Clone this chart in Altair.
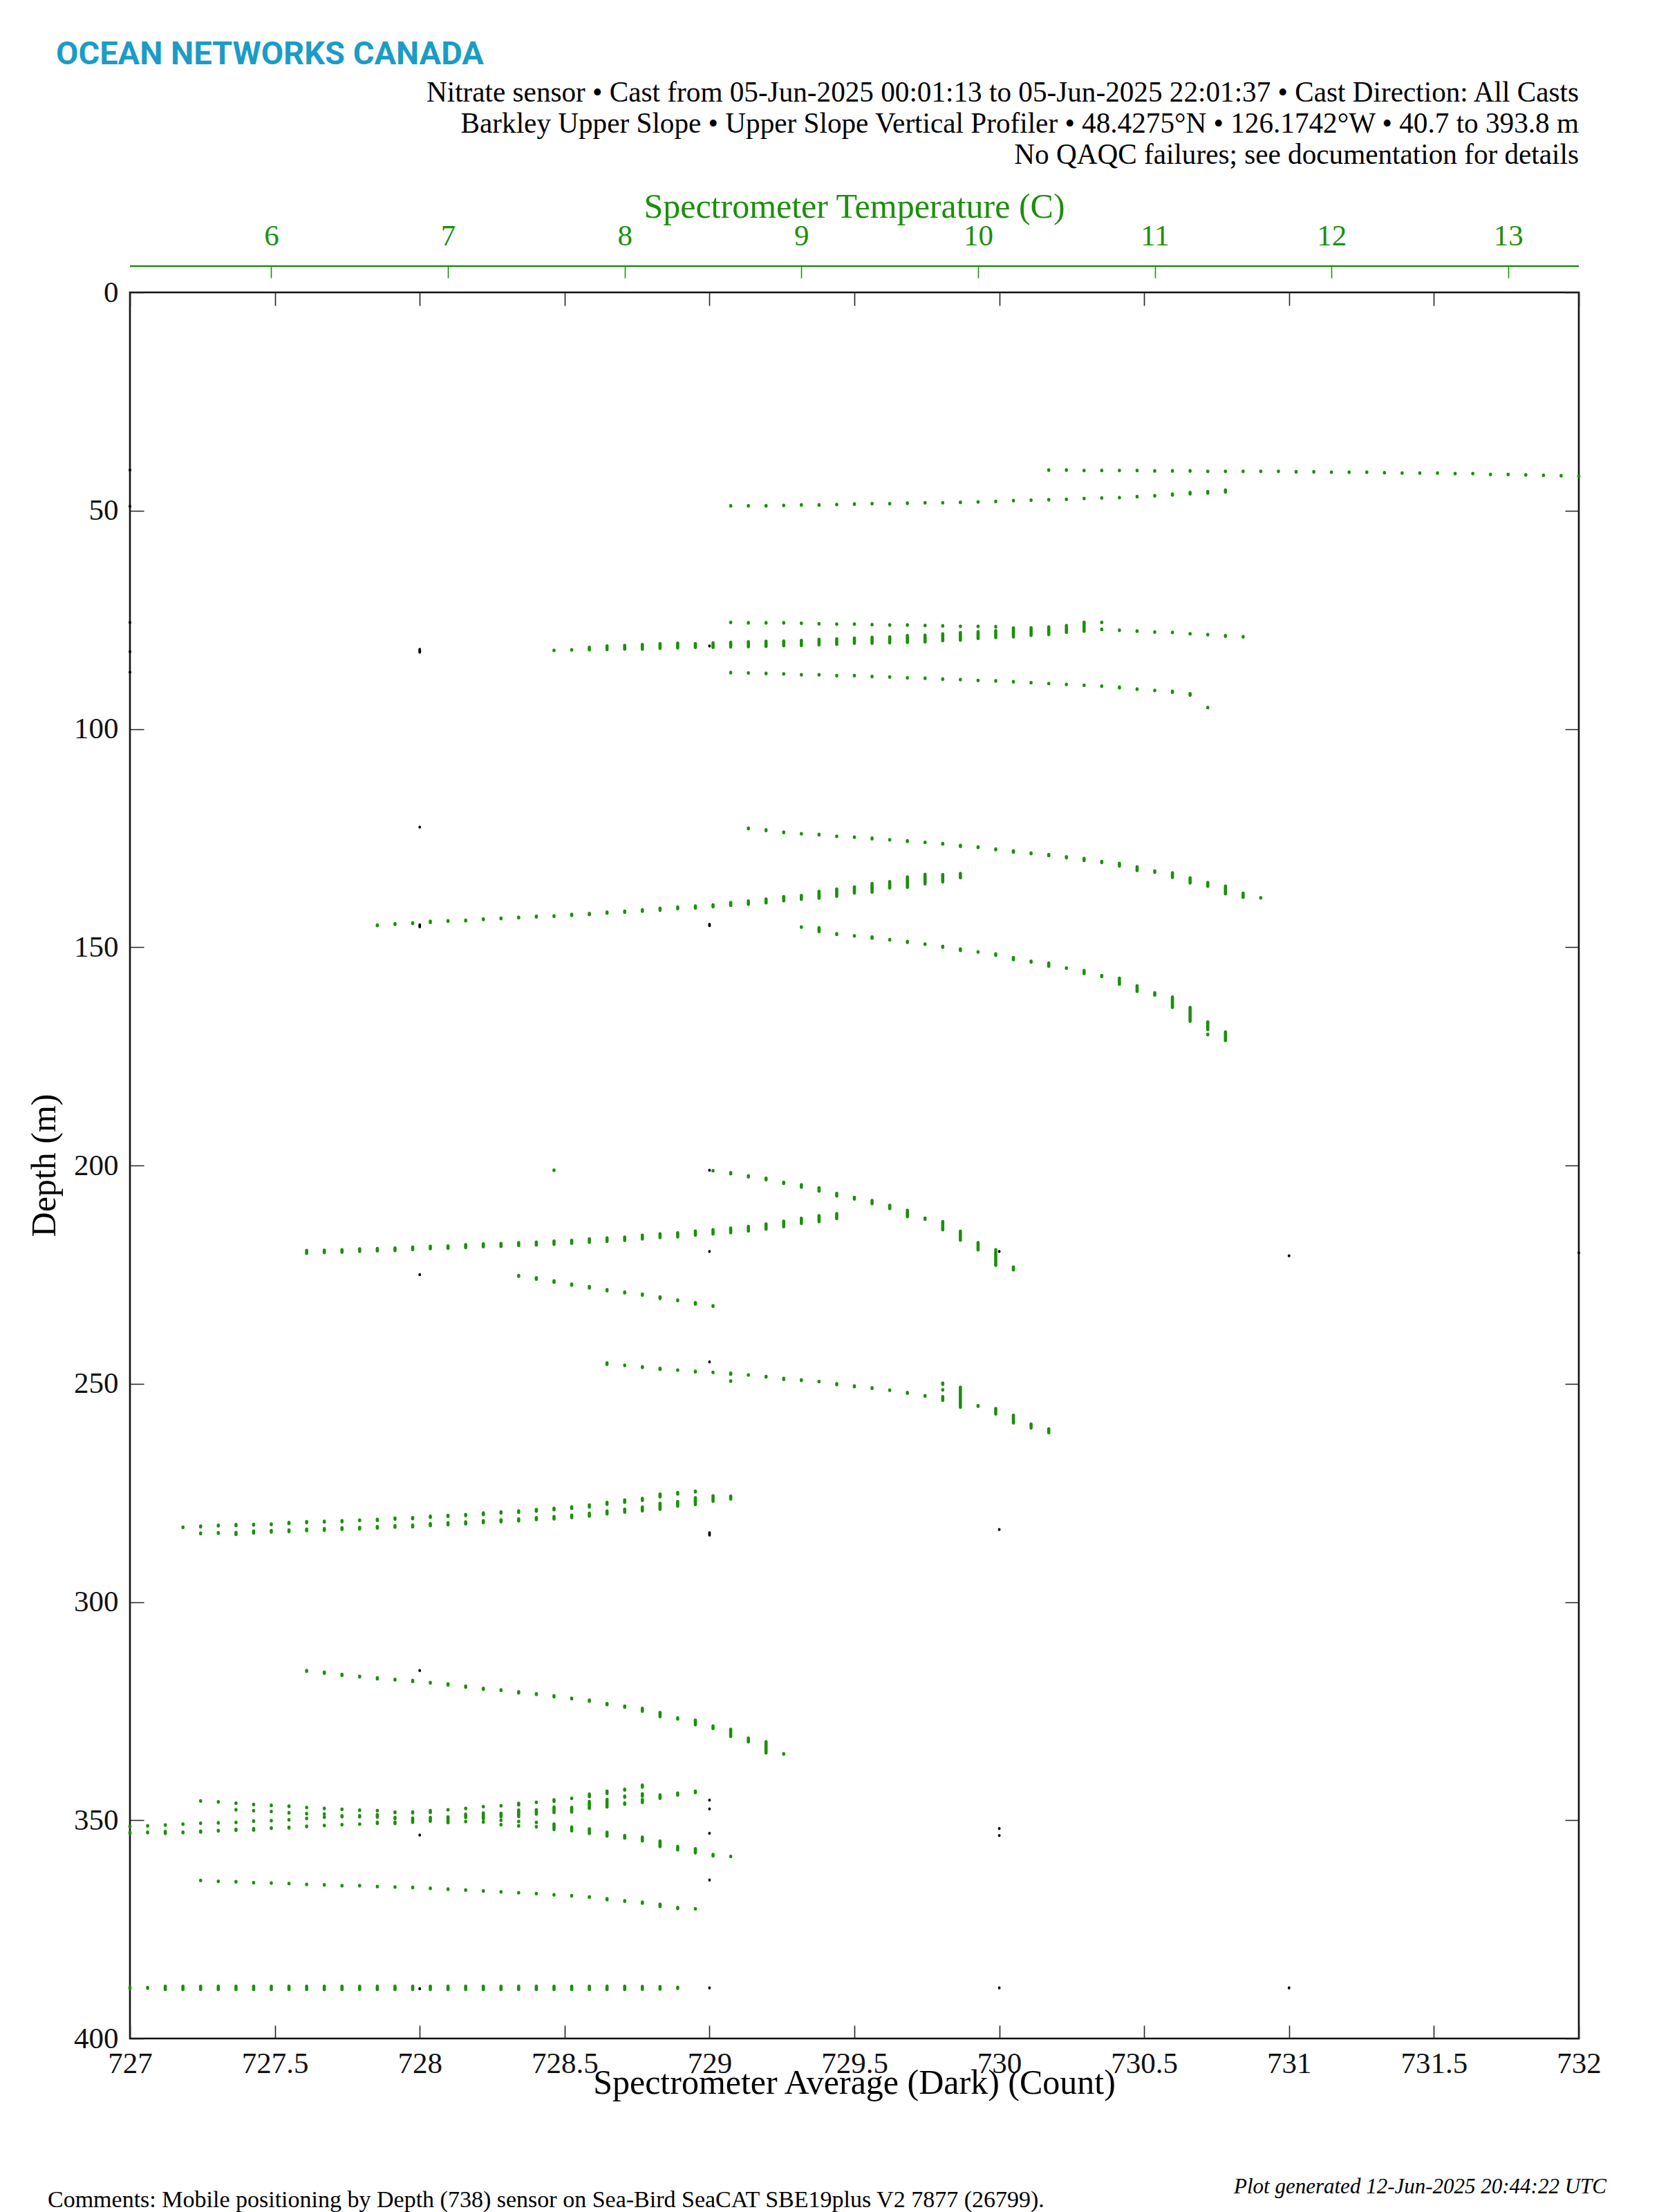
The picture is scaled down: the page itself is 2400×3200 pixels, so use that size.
import altair as alt
import pandas as pd

# ---------------- axis tick values ----------------
count_ticks = [727, 727.5, 728, 728.5, 729, 729.5, 730, 730.5, 731, 731.5, 732]
temp_ticks = [6, 7, 8, 9, 10, 11, 12, 13]
depth_ticks = [0, 50, 100, 150, 200, 250, 300, 350, 400]

# ---------------- texts ----------------
logo_text = "OCEAN NETWORKS CANADA"
header_lines = [
    "Nitrate sensor \u2022 Cast from 05-Jun-2025 00:01:13 to 05-Jun-2025 22:01:37 \u2022 Cast Direction: All Casts",
    "Barkley Upper Slope \u2022 Upper Slope Vertical Profiler \u2022 48.4275\u00b0N \u2022 126.1742\u00b0W \u2022 40.7 to 393.8 m",
    "No QAQC failures; see documentation for details",
]
top_title = "Spectrometer Temperature (C)"
bottom_title = "Spectrometer Average (Dark) (Count)"
left_title = "Depth (m)"
comment_text = "Comments: Mobile positioning by Depth (738) sensor on Sea-Bird SeaCAT SBE19plus V2 7877 (26799)."
generated_text = "Plot generated 12-Jun-2025 20:44:22 UTC"

# ---------------- Spectrometer Average (Dark) (Count) vs depth (black) ----------------
dark_count = [727, 727, 727, 727, 727, 727,
              728, 728, 728, 728, 728, 728, 728,
              729, 729, 729, 729, 729, 729, 729, 729, 729, 729, 729,
              730, 730, 730, 730, 730,
              731, 731,
              732]
dark_depth = [40.7, 49.0, 75.6, 82.3, 87.0, 388.4,
              82.1, 122.5, 145.1, 225.0, 315.7, 353.4, 388.6,
              81.0, 144.9, 201.1, 219.7, 245.0, 284.4, 345.4, 347.4, 353.0, 363.7, 388.4,
              219.7, 283.4, 351.9, 353.5, 388.4,
              220.7, 388.4,
              220.0]
dark_span = [0, 0, 0, 0, 0, 0,
             0.7, 0, 0.5, 0, 0, 0, 0,
             0, 0.4, 0, 0, 0, 0.6, 0, 0, 0, 0, 0,
             0, 0, 0, 0, 0,
             0, 0,
             0]

# ---------------- Spectrometer Temperature (C) vs depth (green) ----------------
# each mark: temperature, centre depth (m), vertical extent of overlapping samples (m)
a_temp = [10.4, 10.5, 10.6, 10.7, 10.8, 10.9, 11.0, 11.1, 11.2, 11.3, 11.4, 11.5, 11.6, 11.7, 11.8, 11.9,
          12.0, 12.1, 12.2, 12.3, 12.4, 12.5, 12.6, 12.7, 12.8, 12.9, 13.0, 13.1, 13.2, 13.3, 13.4]
a_depth = [40.7, 40.7, 40.8, 40.8, 40.8, 40.8, 40.9, 40.9, 40.9, 41.0, 41.0, 41.0, 41.0, 41.0, 41.1, 41.1,
           41.2, 41.2, 41.2, 41.3, 41.4, 41.4, 41.4, 41.5, 41.5, 41.7, 41.7, 41.8, 41.9, 42.0, 42.1]
a_span = [0, 0, 0, 0, 0, 0, 0, 0, 0, 0, 0, 0, 0, 0, 0, 0,
          0, 0, 0, 0, 0, 0, 0, 0, 0, 0, 0, 0, 0, 0, 0]

b_temp = [8.6, 8.7, 8.8, 8.9, 9.0, 9.1, 9.2, 9.3, 9.4, 9.5, 9.6, 9.7, 9.8, 9.9, 10.0, 10.1, 10.2, 10.3,
          10.4, 10.5, 10.6, 10.7, 10.8, 10.9, 11.0, 11.1, 11.2, 11.3, 11.4]
b_depth = [48.9, 48.9, 48.9, 48.8, 48.7, 48.7, 48.6, 48.5, 48.4, 48.4, 48.3, 48.2, 48.2, 48.1, 48.0, 47.9,
           47.7, 47.6, 47.5, 47.4, 47.2, 47.1, 47.0, 46.8, 46.6, 46.3, 46.0, 45.8, 45.5]
b_span = [0, 0, 0, 0, 0, 0, 0, 0, 0, 0, 0, 0, 0, 0, 0, 0,
          0, 0, 0, 0, 0, 0, 0, 0, 0, 0.3, 0.4, 0.4, 0.5]

c1_temp = [8.6, 8.7, 8.8, 8.9, 9.0, 9.1, 9.2, 9.3, 9.4, 9.5, 9.6, 9.7, 9.8, 9.9, 10.0, 10.1, 10.6, 10.7]
c1_depth = [75.6, 75.7, 75.7, 75.7, 75.8, 75.9, 76.0, 76.0, 76.1, 76.2, 76.2, 76.3, 76.4, 76.5, 76.5, 76.6,
            75.6, 75.6]
c1_span = [0, 0, 0, 0, 0, 0, 0, 0, 0, 0, 0, 0, 0, 0, 0, 0, 0, 0]

c2_temp = [7.6, 7.7, 7.8, 7.9, 8.0, 8.1, 8.2, 8.3, 8.4, 8.5, 8.6, 8.7, 8.8, 8.9, 9.0, 9.1, 9.2, 9.3,
           9.4, 9.5, 9.6, 9.7, 9.8, 9.9, 10.0, 10.1, 10.2, 10.3, 10.4, 10.5, 10.6]
c2_depth = [82.0, 81.9, 81.6, 81.4, 81.3, 81.2, 81.0, 80.9, 80.9, 80.8, 80.7, 80.6, 80.5, 80.4, 80.3,
            80.1, 80.0, 79.8, 79.7, 79.6, 79.4, 79.3, 79.0, 78.8, 78.5, 78.3, 77.9, 77.7, 77.5, 77.1, 76.7]
c2_span = [0.1, 0.1, 0.6, 0.9, 0.9, 1.1, 1.1, 1.1, 0.9, 1.1, 1.1, 1.2, 1.2, 1.1, 1.2, 1.3, 1.3, 1.2,
           1.4, 1.4, 1.6, 1.6, 1.6, 1.8, 1.6, 1.6, 2.1, 1.8, 1.8, 1.6, 1.9]

c3_temp = [8.6, 8.7, 8.8, 8.9, 9.0, 9.1, 9.2, 9.3, 9.4, 9.5, 9.6, 9.7, 9.8, 9.9, 10.0, 10.1, 10.2, 10.3,
           10.4, 10.5, 10.6, 10.7, 10.8, 10.9, 11.0, 11.1, 11.2, 11.3]
c3_depth = [87.1, 87.2, 87.3, 87.4, 87.6, 87.6, 87.8, 87.8, 88.0, 88.1, 88.3, 88.4, 88.6, 88.7, 88.9,
            89.0, 89.2, 89.4, 89.6, 89.8, 90.0, 90.2, 90.5, 90.9, 91.2, 91.5, 92.1, 95.1]
c3_span = [0, 0, 0, 0, 0, 0, 0, 0, 0, 0, 0, 0, 0, 0, 0, 0, 0, 0,
           0, 0, 0, 0, 0.2, 0, 0.1, 0.3, 0.4, 0]

c4_temp = [10.7, 10.8, 10.9, 11.0, 11.1, 11.2, 11.3, 11.4, 11.5]
c4_depth = [77.2, 77.4, 77.6, 77.8, 77.9, 78.2, 78.4, 78.7, 78.9]
c4_span = [0, 0, 0, 0, 0, 0, 0, 0.2, 0]

d_temp = [8.7, 8.8, 8.9, 9.0, 9.1, 9.2, 9.3, 9.4, 9.5, 9.6, 9.7, 9.8, 9.9, 10.0, 10.1, 10.2, 10.3, 10.4,
          10.5, 10.6, 10.7, 10.8, 10.9, 11.0, 11.1, 11.2, 11.3, 11.4, 11.5, 11.6]
d_depth = [122.8, 123.2, 123.7, 124.0, 124.2, 124.6, 124.8, 125.1, 125.4, 125.7, 126.0, 126.3, 126.8,
           127.1, 127.6, 128.1, 128.5, 128.9, 129.4, 129.9, 130.5, 131.1, 132.0, 132.7, 133.5, 134.7,
           135.6, 136.9, 138.1, 138.7]
d_span = [0.2, 0.2, 0.2, 0, 0.2, 0, 0, 0.2, 0, 0.2, 0, 0.2, 0.3, 0.2, 0.2, 0.35, 0.2, 0.3,
          0.3, 0.5, 0.3, 0.65, 0.9, 0.35, 1.1, 1.2, 0.9, 1.8, 1.0, 0.1]

e_temp = [6.6, 6.7, 6.8, 6.9, 7.0, 7.1, 7.2, 7.3, 7.4, 7.5, 7.6, 7.7, 7.8, 7.9, 8.0, 8.1, 8.2, 8.3,
          8.4, 8.5, 8.6, 8.7, 8.8, 8.9, 9.0, 9.1, 9.2, 9.3, 9.4, 9.5, 9.6, 9.7, 9.8, 9.9]
e_depth = [145.0, 144.7, 144.5, 144.2, 144.0, 143.9, 143.6, 143.4, 143.2, 143.0, 142.9, 142.6, 142.4,
           142.1, 141.9, 141.6, 141.3, 141.0, 140.8, 140.5, 140.1, 139.8, 139.4, 138.9, 138.6, 138.0,
           137.5, 136.9, 136.4, 135.7, 135.1, 134.4, 134.2, 133.6]
e_span = [0.2, 0.2, 0.2, 0.35, 0.2, 0.2, 0.2, 0.2, 0.2, 0.2, 0.2, 0.3, 0.3, 0.3, 0.3, 0.4, 0.5, 0.4,
          0.5, 0.5, 0.7, 0.8, 0.9, 1.0, 0.9, 1.6, 1.7, 1.4, 2.0, 1.5, 2.4, 2.2, 1.7, 1.0]

f_temp = [9.0, 9.1, 9.2, 9.3, 9.4, 9.5, 9.6, 9.7, 9.8, 9.9, 10.0, 10.1, 10.2, 10.3, 10.4, 10.5, 10.6,
          10.7, 10.8, 10.9, 11.0, 11.1, 11.2, 11.3, 11.4, 11.3]
f_depth = [145.4, 146.0, 147.0, 147.4, 147.8, 148.3, 148.8, 149.3, 149.9, 150.6, 151.1, 151.7, 152.6,
           153.3, 154.0, 154.8, 155.7, 156.6, 157.8, 159.5, 160.7, 162.6, 165.4, 168.0, 170.4, 170.0]
f_span = [0, 0.9, 0.2, 0, 0.35, 0, 0.25, 0, 0.25, 0.4, 0, 0.35, 0.55, 0.25, 0.75, 0.15, 0.75,
          0.3, 1.4, 1.3, 0.6, 2.4, 3.2, 1.8, 2.0, 0]

g1_temp = [7.6, 8.5, 8.6, 8.7, 8.8, 8.9, 9.0, 9.1, 9.2, 9.3, 9.4, 9.5, 9.6, 9.7, 9.8, 9.9, 10.0, 10.1, 10.2]
g1_depth = [201.1, 201.2, 201.8, 202.5, 203.1, 204.0, 204.7, 205.5, 206.7, 207.5, 208.4, 209.5, 211.0,
            212.2, 213.8, 216.1, 218.5, 221.1, 223.6]
g1_span = [0, 0, 0.3, 0.3, 0.4, 0.3, 0.6, 0.8, 0.6, 0.4, 0.8, 0.8, 1.5, 0.3, 1.9, 2.1, 1.7, 3.6, 0.7]

g2_temp = [6.2, 6.3, 6.4, 6.5, 6.6, 6.7, 6.8, 6.9, 7.0, 7.1, 7.2, 7.3, 7.4, 7.5, 7.6, 7.7, 7.8, 7.9,
           8.0, 8.1, 8.2, 8.3, 8.4, 8.5, 8.6, 8.7, 8.8, 8.9, 9.0, 9.1, 9.2]
g2_depth = [219.8, 219.7, 219.6, 219.4, 219.3, 219.2, 219.0, 218.8, 218.7, 218.5, 218.3, 218.2, 218.0,
            217.9, 217.7, 217.5, 217.2, 217.0, 216.8, 216.4, 216.1, 215.9, 215.5, 215.2, 214.9, 214.5,
            214.0, 213.4, 212.7, 212.2, 211.6]
g2_span = [0.7, 0.6, 0.6, 0.6, 0.6, 0.6, 0.6, 0.6, 0.6, 0.7, 0.7, 0.7, 0.7, 0.7, 0.8, 0.7, 0.8, 0.8,
           0.8, 0.9, 0.9, 1.0, 1.0, 1.0, 1.1, 1.1, 1.2, 1.3, 1.2, 1.4, 1.2]

g3_temp = [7.4, 7.5, 7.6, 7.7, 7.8, 7.9, 8.0, 8.1, 8.2, 8.3, 8.4, 8.5]
g3_depth = [225.3, 225.9, 226.6, 227.3, 227.9, 228.6, 229.1, 229.6, 230.3, 230.9, 231.6, 232.2]
g3_span = [0.2, 0.4, 0.4, 0.3, 0.4, 0.3, 0.2, 0.3, 0.4, 0.2, 0.4, 0.2]

h_temp = [7.9, 8.0, 8.1, 8.2, 8.3, 8.4, 8.5, 8.6, 8.6, 8.7, 8.8, 8.9, 9.0, 9.1, 9.2, 9.3, 9.4, 9.5,
          9.6, 9.7, 9.8, 9.8, 9.8, 9.9, 10.0, 10.1, 10.2, 10.3, 10.4]
h_depth = [245.4, 245.8, 246.2, 246.6, 246.9, 247.2, 247.4, 247.7, 249.4, 248.0, 248.4, 248.9, 249.2,
           249.5, 250.1, 250.6, 251.0, 251.5, 252.1, 252.8, 250.0, 251.4, 253.4, 253.1, 255.1, 256.3,
           258.1, 259.7, 260.8]
h_span = [0.4, 0, 0.2, 0.3, 0, 0.2, 0, 0.3, 0, 0, 0.2, 0.3, 0.2, 0, 0.3, 0.2, 0.2, 0,
          0.2, 0.2, 0.3, 0, 0.9, 4.6, 0.2, 1.3, 1.8, 0.9, 0.9]

i1_temp = [5.5, 5.6, 5.7, 5.8, 5.9, 6.0, 6.1, 6.2, 6.3, 6.4, 6.5, 6.6, 6.7, 6.8, 6.9, 7.0, 7.1, 7.2,
           7.3, 7.4, 7.5, 7.6, 7.7, 7.8, 7.9, 8.0, 8.1, 8.2, 8.3, 8.4, 8.5, 8.6]
i1_depth = [282.9, 282.7, 282.5, 282.4, 282.3, 282.2, 281.9, 281.7, 281.6, 281.5, 281.3, 281.2, 280.9,
            280.8, 280.5, 280.3, 280.1, 279.8, 279.5, 279.3, 279.0, 278.7, 278.4, 278.0, 277.4, 276.9,
            276.5, 275.6, 275.1, 274.7, 276.3, 276.1]
i1_span = [0.1, 0.2, 0.2, 0.3, 0.2, 0.2, 0.3, 0.3, 0.2, 0.3, 0.2, 0.3, 0.3, 0.3, 0.3, 0.3, 0.3, 0.4,
           0.3, 0.4, 0.4, 0.4, 0.4, 0.5, 0.5, 0.6, 0.5, 0.7, 0.4, 0.2, 1.3, 0.7]

i2_temp = [5.6, 5.7, 5.8, 5.9, 6.0, 6.1, 6.2, 6.3, 6.4, 6.5, 6.6, 6.7, 6.8, 6.9, 7.0, 7.1, 7.2, 7.3,
           7.4, 7.5, 7.6, 7.7, 7.8, 7.9, 8.0, 8.1, 8.2, 8.3, 8.4]
i2_depth = [284.3, 284.2, 284.3, 284.0, 283.8, 283.7, 283.5, 283.4, 283.2, 283.1, 282.9, 282.7, 282.6,
            282.3, 282.1, 281.9, 281.6, 281.4, 281.2, 280.9, 280.7, 280.4, 280.0, 279.5, 279.1, 278.7,
            278.1, 277.5, 276.9]
i2_span = [0.2, 0.2, 0.5, 0.5, 0.4, 0.4, 0.4, 0.4, 0.4, 0.4, 0.4, 0.4, 0.4, 0.5, 0.5, 0.5, 0.5, 0.5,
           0.5, 0.5, 0.6, 0.6, 0.7, 0.7, 0.7, 0.9, 1.4, 1.1, 1.6]

j_temp = [6.2, 6.3, 6.4, 6.5, 6.6, 6.7, 6.8, 6.9, 7.0, 7.1, 7.2, 7.3, 7.4, 7.5, 7.6, 7.7, 7.8, 7.9,
          8.0, 8.1, 8.2, 8.3, 8.4, 8.5, 8.6, 8.7, 8.8, 8.9]
j_depth = [315.8, 316.2, 316.7, 317.1, 317.5, 317.8, 318.1, 318.5, 318.9, 319.4, 319.9, 320.2, 320.7,
           321.1, 321.6, 322.1, 322.6, 323.4, 324.0, 324.7, 325.8, 326.7, 327.6, 328.7, 330.0, 331.6,
           333.3, 334.8]
j_span = [0.2, 0.3, 0.3, 0.2, 0.3, 0.2, 0.3, 0.2, 0.3, 0.3, 0.3, 0.2, 0.3, 0.2, 0.3, 0.2, 0.3, 0.3,
          0.3, 0.7, 1.0, 0.3, 1.1, 0.6, 1.7, 0.9, 2.6, 0.1]

k_temp = [5.2, 5.2, 5.3, 5.3, 5.4, 5.4, 5.5, 5.5,
          5.6, 5.6, 5.6, 5.7, 5.7, 5.7,
          5.8, 5.8, 5.8, 5.8, 5.9, 5.9, 5.9, 5.9, 6.0, 6.0, 6.0, 6.0, 6.1, 6.1, 6.1, 6.1,
          6.2, 6.2, 6.2, 6.2, 6.3, 6.3, 6.3, 6.3,
          6.4, 6.4, 6.4, 6.5, 6.5, 6.5, 6.6, 6.6, 6.6, 6.7, 6.7, 6.7,
          6.8, 6.8, 6.9, 6.9, 7.0, 7.0,
          7.1, 7.1, 7.1, 7.2, 7.2, 7.2,
          7.3, 7.3, 7.3, 7.3, 7.4, 7.4, 7.4, 7.4, 7.5, 7.5, 7.5, 7.5,
          7.6, 7.6, 7.6, 7.7, 7.7, 7.7, 7.8, 7.8, 7.8, 7.9, 7.9, 7.9,
          8.0, 8.0, 8.0, 8.0, 8.1, 8.1, 8.1, 8.1,
          8.2, 8.2, 8.3, 8.3, 8.4, 8.4, 8.5, 8.6]
k_depth = [351.4, 352.9, 351.3, 352.8, 351.1, 352.8, 350.9, 352.8,
           345.6, 350.7, 352.6, 345.8, 350.6, 352.4,
           346.1, 347.6, 350.5, 352.2, 346.4, 347.8, 350.2, 352.1, 346.6, 348.0, 350.1, 351.8,
           346.8, 348.3, 349.9, 351.7,
           347.1, 348.5, 349.6, 351.4, 347.3, 348.6, 349.3, 351.2,
           347.5, 349.1, 351.0, 347.7, 349.1, 350.9, 347.8, 349.0, 350.6, 348.2, 349.5, 350.6,
           348.2, 350.0, 348.0, 349.8, 347.6, 349.9,
           347.3, 349.0, 350.3, 346.9, 349.0, 350.4,
           346.7, 348.8, 350.0, 351.0, 346.3, 348.4, 350.3, 351.3, 345.9, 348.1, 350.5, 351.5,
           345.5, 347.6, 351.5, 345.0, 347.6, 352.0, 344.3, 346.5, 352.5, 343.6, 346.1, 353.2,
           343.0, 344.6, 346.2, 353.8, 342.2, 344.2, 345.6, 354.3,
           344.6, 355.4, 344.0, 356.4, 343.5, 357.0, 358.0, 358.3]
k_span = [0, 0.3, 0, 0.2, 0, 0.5, 0, 0.2,
          0, 0, 0.3, 0, 0, 0.2,
          0, 0, 0, 0.3, 0, 0, 0, 0.4, 0, 0, 0, 0.2, 0, 0, 0, 0.2,
          0, 0, 0, 0.2, 0, 0, 0, 0,
          0, 0.3, 0, 0, 0.3, 0, 0, 0.6, 0.3, 0.2, 0.3, 0.4,
          0.3, 1.0, 0.5, 0.9, 0, 1.4,
          0, 0.8, 0, 0, 1.4, 0,
          0, 0.8, 0, 0, 0.4, 1.5, 0, 0, 0, 1.0, 0, 0,
          0.4, 1.3, 1.3, 0, 1.1, 0.9, 0.6, 1.6, 1.1, 0.6, 1.8, 0.9,
          0.2, 0.3, 0.3, 0.6, 0.5, 0.6, 0.7, 0.9,
          0.8, 1.3, 0.5, 0.8, 0.4, 1.0, 0.4, 0]

k4_temp = [5.6, 5.7, 5.8, 5.9, 6.0, 6.1, 6.2, 6.3, 6.4, 6.5, 6.6, 6.7, 6.8, 6.9, 7.0, 7.1, 7.2, 7.3,
           7.4, 7.5, 7.6, 7.7, 7.8, 7.9, 8.0, 8.1, 8.2, 8.3, 8.4]
k4_depth = [363.8, 364.0, 364.1, 364.3, 364.4, 364.5, 364.7, 364.8, 365.0, 365.0, 365.2, 365.3, 365.4,
            365.6, 365.8, 366.0, 366.2, 366.4, 366.6, 366.8, 367.1, 367.3, 367.6, 368.1, 368.5, 368.9,
            369.5, 370.1, 370.3]
k4_span = [0, 0, 0, 0, 0, 0, 0, 0, 0, 0, 0, 0, 0, 0, 0, 0, 0, 0,
           0, 0, 0, 0, 0.2, 0.3, 0.2, 0.3, 0.6, 0.3, 0.1]

l_temp = [5.2, 5.3, 5.4, 5.5, 5.6, 5.7, 5.8, 5.9, 6.0, 6.1, 6.2, 6.3, 6.4, 6.5, 6.6, 6.7, 6.8, 6.9,
          7.0, 7.1, 7.2, 7.3, 7.4, 7.5, 7.6, 7.7, 7.8, 7.9, 8.0, 8.1, 8.2, 8.3]
l_depth = [388.4, 388.4, 388.4, 388.4, 388.4, 388.4, 388.4, 388.4, 388.4, 388.4, 388.4, 388.4, 388.4,
           388.4, 388.4, 388.4, 388.4, 388.4, 388.4, 388.4, 388.4, 388.4, 388.4, 388.4, 388.4, 388.4,
           388.4, 388.4, 388.4, 388.4, 388.4, 388.4]
l_span = [0.3, 0.2, 0.8, 0.8, 0.8, 0.8, 0.8, 0.8, 0.8, 0.8, 0.8, 0.8, 0.8, 0.8, 0.8, 0.8, 0.8, 0.8,
          0.8, 0.8, 0.8, 0.8, 0.8, 0.8, 0.8, 0.8, 0.8, 0.8, 0.8, 0.7, 0.6, 0.3]

# ---------------- build tables ----------------
W, H = 2096, 2526
SERIF = "Liberation Serif"
GREEN = "#1c8f0c"
TEAL = "#1b9cc6"
TICK = "#222222"


def seg(temps, depths, spans):
    return pd.DataFrame({"v": temps, "depth": depths, "span": spans})


green = pd.concat([
    seg(a_temp, a_depth, a_span), seg(b_temp, b_depth, b_span),
    seg(c1_temp, c1_depth, c1_span), seg(c2_temp, c2_depth, c2_span),
    seg(c3_temp, c3_depth, c3_span), seg(c4_temp, c4_depth, c4_span),
    seg(d_temp, d_depth, d_span), seg(e_temp, e_depth, e_span), seg(f_temp, f_depth, f_span),
    seg(g1_temp, g1_depth, g1_span), seg(g2_temp, g2_depth, g2_span), seg(g3_temp, g3_depth, g3_span),
    seg(h_temp, h_depth, h_span), seg(i1_temp, i1_depth, i1_span), seg(i2_temp, i2_depth, i2_span),
    seg(j_temp, j_depth, j_span), seg(k_temp, k_depth, k_span), seg(k4_temp, k4_depth, k4_span),
    seg(l_temp, l_depth, l_span),
], ignore_index=True)
green["half"] = green["span"].clip(lower=0.12) / 2
green["d1"] = green["depth"] - green["half"]
green["d2"] = green["depth"] + green["half"]

dark = seg(dark_count, dark_depth, dark_span)
dark["half"] = dark["span"].clip(lower=0.08) / 2
dark["d1"] = dark["depth"] - dark["half"]
dark["d2"] = dark["depth"] + dark["half"]

y_scale = alt.Scale(domain=[0, 400], reverse=True, nice=False, zero=False)
y_axis = alt.Axis(values=depth_ticks, grid=True, gridDash=[20, W - 40, 20, 6000], gridColor=TICK,
                  gridWidth=1.6, gridOpacity=1, ticks=False, domain=False, labelFont=SERIF,
                  labelFontSize=43, labelColor="#111111", labelPadding=17, title=None)

dark_layer = alt.Chart(dark).mark_rule(color="black", strokeWidth=3.8, strokeCap="round").encode(
    x=alt.X("v:Q", scale=alt.Scale(domain=[727, 732], nice=False, zero=False),
            axis=alt.Axis(orient="bottom", values=count_ticks, format="~g", grid=True,
                          gridDash=[19, H - 38, 19, 6000], gridColor=TICK, gridWidth=1.6, gridOpacity=1,
                          ticks=False, domain=False, labelFont=SERIF, labelFontSize=43,
                          labelColor="#111111", labelPadding=15, labelFlush=False, labelOverlap=False,
                          title=None)),
    y=alt.Y("d1:Q", scale=y_scale, axis=y_axis),
    y2="d2:Q",
)

green_layer = alt.Chart(green).mark_rule(color=GREEN, strokeWidth=4.6, strokeCap="round").encode(
    x=alt.X("v:Q", scale=alt.Scale(domain=[5.2, 13.4], nice=False, zero=False),
            axis=alt.Axis(orient="top", values=temp_ticks, format="~g", offset=21, tickSize=17,
                          ticks=True, tickColor=GREEN, tickWidth=1.6, domain=False, grid=False,
                          labelFont=SERIF, labelFontSize=43, labelColor=GREEN, labelPadding=22,
                          labelFlush=False, labelOverlap=False, title=None)),
    y=alt.Y("d1:Q", scale=y_scale, axis=y_axis),
    y2="d2:Q",
)

top_line = alt.Chart(pd.DataFrame({"k": [0]})).mark_rule(color=GREEN, strokeWidth=2.6).encode(
    x=alt.value(0), x2=alt.value(W), y=alt.value(-38)
)


def text_layer(s, x, y, size, align="center", baseline="alphabetic", color="black", angle=0,
               font=SERIF, weight="normal", style="normal"):
    return alt.Chart(pd.DataFrame({"t": [s]})).mark_text(
        align=align, baseline=baseline, fontSize=size, font=font, color=color, angle=angle,
        fontWeight=weight, fontStyle=style,
    ).encode(x=alt.value(x), y=alt.value(y), text="t:N")


texts = [
    text_layer(logo_text, -107, -330, 47, align="left", color=TEAL, font="Roboto", weight="bold"),
    text_layer(header_lines[0], W, -276, 41.2, align="right"),
    text_layer(header_lines[1], W, -231, 41.2, align="right"),
    text_layer(header_lines[2], W, -186, 41.2, align="right"),
    text_layer(top_title, W / 2, -108, 50, color=GREEN),
    text_layer(bottom_title, W / 2, H + 80, 50),
    text_layer(left_title, -108, H / 2, 50, angle=270),
    text_layer(comment_text, -119, H + 244, 34, align="left"),
    text_layer(generated_text, 2136, H + 224, 31, align="right", style="italic"),
]

chart = alt.layer(dark_layer, green_layer, top_line, *texts).resolve_scale(x="independent").properties(
    width=W, height=H,
    padding={"left": 180, "top": 415, "right": 100, "bottom": 262},
    autosize=alt.AutoSizeParams(type="none"),
).configure_view(stroke="#111111", strokeWidth=2.6)

chart.save("out.html", embed_options={"renderer": "svg", "actions": False})
